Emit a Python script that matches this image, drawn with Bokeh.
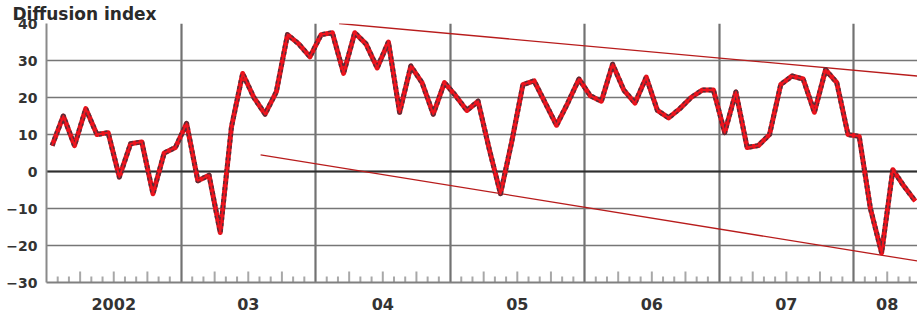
from bokeh.plotting import figure
from bokeh.models import FixedTicker, Range1d, Span
from bokeh.embed import file_html
from bokeh.resources import INLINE
import numpy as np

# Monthly diffusion index, Jan 2002 .. Jun 2008
diffusion_index = [7, 15, 7, 17, 10, 10.5, -1.5, 7.5, 8, -6, 5, 6.5,
                   13, -2.5, -1, -16.5, 12, 26.5, 20, 15.5, 21.5, 37, 34.5, 31,
                   37, 37.5, 26.5, 37.5, 34.5, 28, 35, 16, 28.5, 24, 15.5, 24,
                   20.5, 16.5, 19, 6, -6, 8, 23.5, 24.5, 18.5, 12.5, 18.5, 25,
                   20.5, 19, 29, 22, 18.5, 25.5, 16.5, 14.5, 17, 20, 22, 22,
                   10.5, 21.5, 6.5, 7, 10, 23.5, 25.8, 25, 16, 27.5, 24, 10,
                   9.5, -10, -22, 0.5, -4, -8]
year_labels = ["2002", "03", "04", "05", "06", "07", "08"]
y_ticks = [-30, -20, -10, 0, 10, 20, 30, 40]

# trend lines (month position, index value)
upper_trend_x = [26.1, 77.7]
upper_trend_y = [40.0, 25.8]
lower_trend_x = [19.1, 77.7]
lower_trend_y = [4.5, -24.2]

X_END = 77.7
months = np.arange(len(diffusion_index)) + 0.5

p = figure(width=917, height=312, x_range=Range1d(0, X_END), y_range=Range1d(-30, 40),
           output_backend="svg", toolbar_location=None, title="Diffusion index",
           min_border_left=46, min_border_right=0, min_border_top=23, min_border_bottom=29)
p.outline_line_color = None
p.background_fill_color = "white"
p.border_fill_color = "white"

p.title.align = "left"
p.title.offset = -34
p.title.standoff = 0
p.title.text_font = "DejaVu Sans"
p.title.text_font_style = "bold"
p.title.text_font_size = "17px"
p.title.text_color = "#2a2a2a"

# grids
p.ygrid.ticker = FixedTicker(ticks=y_ticks)
p.ygrid.grid_line_color = "#767676"
p.ygrid.grid_line_width = 1.5
year_bounds = [12 * i for i in range(1, len(year_labels))]
p.xgrid.ticker = FixedTicker(ticks=year_bounds)
p.xgrid.grid_line_color = "#727272"
p.xgrid.grid_line_width = 2.2
p.add_layout(Span(location=0, dimension="width", line_color="#2e2e2e", line_width=2, level="underlay"))

# axes
label_pos = [min(12 * i + 6, round((12 * i + X_END) / 2)) for i in range(len(year_labels))]
p.xaxis.ticker = FixedTicker(ticks=label_pos)
p.xaxis.major_label_overrides = {pos: lab for pos, lab in zip(label_pos, year_labels)}
p.xaxis.major_tick_line_color = None
p.xaxis.minor_tick_line_color = None
p.xaxis.axis_line_color = "#808080"
p.xaxis.axis_line_width = 2
p.xaxis.major_label_text_font = "DejaVu Sans"
p.xaxis.major_label_text_font_style = "bold"
p.xaxis.major_label_text_font_size = "16px"
p.xaxis.major_label_text_color = "#333333"
p.xaxis.major_label_standoff = 9

p.yaxis.ticker = FixedTicker(ticks=y_ticks)
p.yaxis.major_tick_line_color = None
p.yaxis.minor_tick_line_color = None
p.yaxis.axis_line_color = "#8a8a8a"
p.yaxis.axis_line_width = 2
p.yaxis.major_label_text_font = "DejaVu Sans"
p.yaxis.major_label_text_font_style = "bold"
p.yaxis.major_label_text_font_size = "14px"
p.yaxis.major_label_text_color = "#333333"
p.yaxis.major_label_standoff = 3

# monthly tick marks along the bottom
bounds = np.array([m for m in range(1, int(X_END) + 1) if m % 12 != 0], dtype=float)
tops = np.where(bounds % 3 == 0, -27.0, -28.4)
p.segment(x0=bounds, y0=np.full_like(bounds, -30.0), x1=bounds, y1=tops,
          line_color="#a8a8a8", line_width=2)

# trend lines
p.line(upper_trend_x, upper_trend_y, line_color="#b81c1c", line_width=1.3)
p.line(lower_trend_x, lower_trend_y, line_color="#b81c1c", line_width=1.3)

# series
p.line(months, diffusion_index, line_color="#e3121b", line_width=5, line_join="round")
p.line(months, diffusion_index, line_color="#34343f", line_width=5, line_dash="3 3",
       line_alpha=0.8, line_join="round")
p.line(months, diffusion_index, line_color="#f0141e", line_width=2, line_join="round")

open("out.html", "w").write(file_html(p, INLINE))
